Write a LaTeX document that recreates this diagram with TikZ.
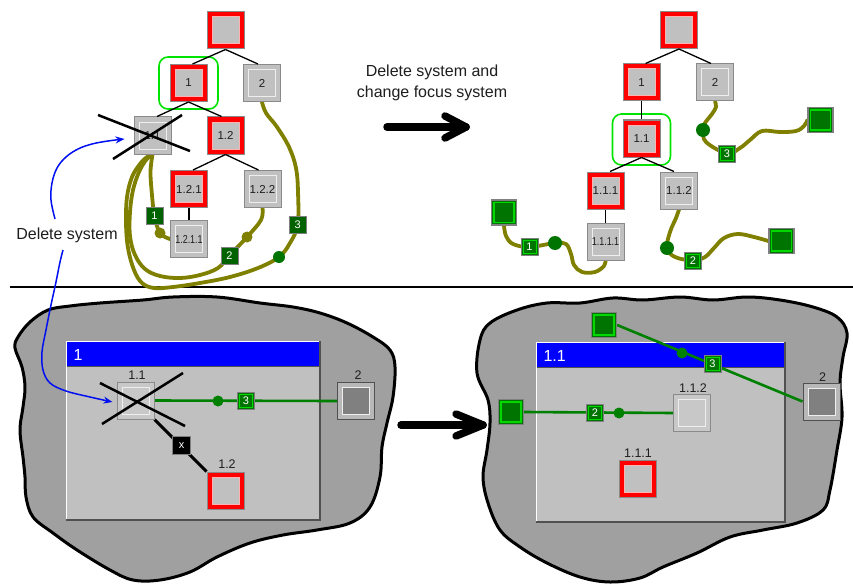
\documentclass[tikz,border=0pt]{standalone}
\usepackage{graphicx}
\usepackage{fontspec}
\setmainfont{Liberation Sans}
\usetikzlibrary{arrows.meta,calc}
\pgfdeclarelayer{back}
\pgfdeclarelayer{wires}
\pgfsetlayers{back,wires,main}

\definecolor{boxgray}{HTML}{C0C0C0}
\definecolor{paleboxgray}{HTML}{C8C8C8}
\definecolor{darkbox}{HTML}{808080}
\definecolor{shadeframe}{HTML}{B8B8B8}
\definecolor{edgegray}{HTML}{8A8A8A}
\definecolor{innerline}{HTML}{EEEEEE}
\definecolor{wire}{HTML}{808000}
\definecolor{portgreen}{HTML}{007400}
\definecolor{portlight}{HTML}{00D800}
\definecolor{linkgreen}{HTML}{008000}
\definecolor{focusgreen}{HTML}{00E400}
\definecolor{blobgray}{HTML}{A0A0A0}
\definecolor{titleblue}{HTML}{0000FF}
\definecolor{inkblue}{HTML}{0010F0}
\definecolor{textgray}{HTML}{1E1E1E}
\definecolor{framedark}{HTML}{505050}

\newcommand{\boxtext}{\fontsize{11.5}{13}\selectfont}
\newcommand{\tagtext}{\fontsize{11}{12}\selectfont}
\newcommand{\captext}{\fontsize{16}{21}\selectfont}
\newcommand{\nametext}{\fontsize{12.5}{14}\selectfont}
% long system numbers are squeezed to fit inside their box
\newcommand{\squeezed}[1]{\scalebox{0.78}[1]{#1}}

\begin{document}
\begin{tikzpicture}[x=1pt,y=-1pt,
  sysbox/.style={inner sep=0pt, minimum size=37pt, font=\boxtext, text=textgray,
    fill=boxgray, draw=edgegray, line width=1pt,
    path picture={\draw[innerline, line width=1pt]
      ([shift={(5pt,5pt)}]path picture bounding box.south west) rectangle
      ([shift={(-5pt,-5pt)}]path picture bounding box.north east);}},
  palebox/.style={sysbox, fill=paleboxgray},
  redbox/.style={inner sep=0pt, minimum size=37pt, font=\boxtext, text=textgray,
    fill=red, draw=edgegray, line width=1pt,
    path picture={\filldraw[fill=boxgray, draw=white!70!red, line width=1pt]
      ([shift={(5pt,5pt)}]path picture bounding box.south west) rectangle
      ([shift={(-5pt,-5pt)}]path picture bounding box.north east);}},
  shadebox/.style={inner sep=0pt, minimum size=37pt,
    fill=shadeframe, draw=framedark, line width=1pt,
    path picture={\filldraw[fill=darkbox, draw=innerline, line width=1pt]
      ([shift={(5pt,5pt)}]path picture bounding box.south west) rectangle
      ([shift={(-5pt,-5pt)}]path picture bounding box.north east);}},
  tagbox/.style={inner sep=0pt, minimum size=17pt, font=\tagtext, text=white,
    fill=portgreen, draw=gray, line width=0.8pt,
    path picture={\draw[portlight, line width=1pt]
      ([shift={(2pt,2pt)}]path picture bounding box.south west) rectangle
      ([shift={(-2pt,-2pt)}]path picture bounding box.north east);}},
  dimtag/.style={inner sep=0pt, minimum size=17pt, font=\tagtext, text=white,
    fill=portgreen!85!black, draw=gray, line width=0.8pt},
  crossbox/.style={inner sep=0pt, minimum size=18pt, font=\tagtext, text=white,
    fill=black, draw=gray, line width=0.8pt},
  extport/.style={inner sep=0pt, minimum size=25pt, fill=portgreen, draw=gray, line width=1.2pt,
    path picture={\draw[portlight, line width=1.3pt]
      ([shift={(2.5pt,2.5pt)}]path picture bounding box.south west) rectangle
      ([shift={(-2.5pt,-2.5pt)}]path picture bounding box.north east);}},
  knot/.style={circle, inner sep=0pt, minimum size=14pt, fill=portgreen},
  oliveknot/.style={circle, inner sep=0pt, minimum size=11pt, fill=wire},
  smallknot/.style={circle, inner sep=0pt, minimum size=11pt, fill=linkgreen},
  treeedge/.style={line width=1.3pt, black},
  wirecurve/.style={wire, line width=3.8pt, line cap=round, line join=round},
  link/.style={linkgreen, line width=2.6pt},
  focus/.style={focusgreen, line width=1.6pt, rounded corners=9pt},
  strike/.style={line width=2.5pt, black},
  bigarrow/.style={line width=7.5pt, line cap=round, line join=round, black},
  pointer/.style={inkblue, line width=1.5pt, -{Stealth[length=9pt,width=7pt]}},
  nametag/.style={font=\nametext, text=textgray, inner sep=0pt},
  blob/.style={fill=blobgray, draw=black, line width=3pt, line join=round},
]
\useasboundingbox (0,0) rectangle (853,583);

% ---------- background: page, divider, clouds and windows ----------
\begin{pgfonlayer}{back}
  \fill[white] (0,0) rectangle (853,583);
  \draw[black, line width=2pt] (10,287) -- (853,287);

  \draw[blob] plot[smooth cycle, tension=0.6] coordinates {
    (48,310) (70,306) (100,303) (143,300) (173,297) (217,297) (260,303) (293,307)
    (320,313) (347,323) (373,337) (390,350) (395,367) (393,397) (387,423) (382,447)
    (380,477) (370,507) (350,523) (317,530) (283,535) (250,543) (217,557) (190,572)
    (160,580) (133,580) (110,570) (77,550) (53,533) (33,517) (26,497) (25,477)
    (23,457) (20,430) (23,407) (25,387) (22,367) (15,348) (18,337) (30,322)};

  \draw[blob] plot[smooth cycle, tension=0.6] coordinates {
    (480,340) (490,323) (517,310) (547,303) (580,303) (613,298) (643,300) (680,297)
    (713,300) (747,297) (780,300) (813,307) (837,317) (847,333) (843,357) (840,383)
    (842,417) (837,450) (830,490) (823,510) (797,523) (763,530) (730,537) (697,553)
    (663,567) (640,578) (610,582) (580,577) (547,563) (520,547) (500,530) (488,503)
    (483,477) (487,450) (490,423) (488,400) (477,373)};

  % window of system 1
  \fill[boxgray] (66,341) rectangle (320,520);
  \fill[titleblue] (67,342) rectangle (319,366);
  \draw[framedark, line width=0.8pt] (67,366.5) -- (319,366.5);
  \draw[white, line width=1.2pt] (66.5,520) -- (66.5,341.5) -- (320,341.5);
  \draw[framedark, line width=1.5pt] (320,341) -- (320,520) -- (66,520);

  % window of system 1.1
  \fill[boxgray] (536,342) rectangle (785,522);
  \fill[titleblue] (537,343) rectangle (784,367);
  \draw[framedark, line width=0.8pt] (537,367.5) -- (784,367.5);
  \draw[white, line width=1.2pt] (536.5,522) -- (536.5,342.5) -- (785,342.5);
  \draw[framedark, line width=1.5pt] (785,342) -- (785,522) -- (536,522);
\end{pgfonlayer}

\node[font=\captext, text=white, anchor=west] (w1title) at (70,355) {1};
\node[font=\captext, text=white, anchor=west] (w2title) at (540,356) {1.1};

% ---------- system tree before the deletion ----------
\node[redbox] (root1) at (225.5,30.5) {};
\node[redbox] (a1) at (188.5,83) {1};
\node[sysbox] (a2) at (262,83) {2};
\node[sysbox] (a11) at (152.5,135.5) {1.1};
\node[redbox] (a12) at (225.5,135.5) {1.2};
\node[redbox] (a121) at (189,189) {1.2.1};
\node[sysbox] (a122) at (262.5,189) {1.2.2};
\node[sysbox] (a1211) at (189,239) {\squeezed{1.2.1.1}};

\draw[focus] ($(a1)+(-29.5,-26)$) rectangle ($(a1)+(29.5,26)$);

\draw[treeedge] (root1.south) -- ([xshift=4pt]a1.north);
\draw[treeedge] (root1.south) -- ([xshift=-4pt]a2.north);
\draw[treeedge] (a1.south) -- ([xshift=4.5pt]a11.north);
\draw[treeedge] (a1.south) -- ([xshift=-4pt]a12.north);
\draw[treeedge] (a12.south) -- ([xshift=4pt]a121.north);
\draw[treeedge] (a12.south) -- ([xshift=-4pt]a122.north);
\draw[treeedge] (a121.south) -- (a1211.north);

\node[oliveknot] (ka) at (160,233) {};
\node[oliveknot] (kb) at (247,237) {};
\node[knot, minimum size=12pt] (kc) at (279,257) {};
\node[dimtag] (ta) at (154.5,216) {1};
\node[dimtag] (tb) at (229.5,255.5) {2};
\node[dimtag] (tc) at (297.7,224.5) {3};

\begin{pgfonlayer}{wires}
  \draw[wirecurve] plot[smooth, tension=0.6] coordinates {
    (a1211.west) (ka) (ta) (152,195) (150.5,172) (a11.south)};
  \draw[wirecurve] plot[smooth, tension=0.6] coordinates {
    (a122.south) (261,220) (kb) (tb) (218,268) (200,275) (180,278) (160,276)
    (145,269) (135,255) (130,236) (130,212) (133,190) (139,172) (146,160) (a11.south)};
  \draw[wirecurve] plot[smooth, tension=0.6] coordinates {
    (a2.south) (266,113) (277,127) (289,147) (296,168) (298,192) (tc) (290,243) (kc)
    (258,268) (230,277) (200,283) (173,287) (154,288) (142,283) (134,270) (128,248)
    (126,223) (127,197) (132,177) (140,164) (147,157) (a11.south)};
\end{pgfonlayer}

% the deleted system is struck out
\coordinate (sA1) at (98,115);  \coordinate (sA2) at (190,151);
\coordinate (sB1) at (113,159); \coordinate (sB2) at (182,115);
\draw[strike] (sA1) -- (sA2);
\draw[strike] (sB1) -- (sB2);

% ---------- system tree after the deletion ----------
\node[redbox] (root2) at (679,30) {};
\node[redbox] (b1) at (641.5,82.5) {1};
\node[sysbox] (b2) at (715,82.5) {2};
\node[redbox] (b11) at (641.5,138.5) {1.1};
\node[redbox] (b111) at (605.5,190.5) {1.1.1};
\node[sysbox] (b112) at (679,190.5) {1.1.2};
\node[sysbox] (b1111) at (605.5,241.5) {\squeezed{1.1.1.1}};

\draw[focus] ($(b11)+(-29,-24.5)$) rectangle ($(b11)+(29,26.5)$);

\draw[treeedge] (root2.south) -- ([xshift=4pt]b1.north);
\draw[treeedge] (root2.south) -- ([xshift=-4pt]b2.north);
\draw[treeedge] (b1.south) -- (b11.north);
\draw[treeedge] (b11.south) -- ([xshift=4.5pt]b111.north);
\draw[treeedge] (b11.south) -- ([xshift=-5pt]b112.north);
\draw[treeedge] (b111.south) -- (b1111.north);

\node[extport] (p1) at (504,212.5) {};
\node[extport] (p2) at (781.5,241) {};
\node[extport] (p3) at (820.5,120) {};
\node[knot] (j1) at (555,243) {};
\node[knot] (j2) at (667,248) {};
\node[knot] (j3) at (703,130) {};
\node[tagbox] (t1) at (529.5,247) {1};
\node[tagbox] (t2) at (693,260.5) {2};
\node[tagbox] (t3) at (727,153.5) {3};

\begin{pgfonlayer}{wires}
  \draw[wirecurve] plot[smooth, tension=0.6] coordinates {
    (p1.south) (506,236) (513,244) (t1) (j1) (566,244) (571,254) (574,265) (582,272)
    (595,272) (604,266) (b1111.south)};
  \draw[wirecurve] plot[smooth, tension=0.6] coordinates {
    (b112.south) (676,218) (670,232) (j2) (675,257) (t2) (705,257) (714,248) (724,238)
    (738,234) (754,237) (p2.west)};
  \draw[wirecurve] plot[smooth, tension=0.6] coordinates {
    (b2.south) (716,107) (712,114) (705,123) (j3) (706,142) (t3) (740,148) (750,140)
    (762,131) (780,132) (796,131) (804,126) (p3.west)};
\end{pgfonlayer}

% ---------- captions and change arrows ----------
\node[font=\captext, text=textgray, align=center] (caption) at (432,83)
  {Delete system and\\change focus system};
\coordinate (arrAs) at (387,127);
\coordinate (arrAe) at (466,127);
\draw[bigarrow] (arrAs) -- (arrAe);
\draw[bigarrow] ($(arrAe)+(-21,-11)$) -- (arrAe) -- ($(arrAe)+(-21,11)$);

\coordinate (arrBs) at (401,425);
\coordinate (arrBe) at (483,425);
\draw[bigarrow] (arrBs) -- (arrBe);
\draw[bigarrow] ($(arrBe)+(-27,-11)$) -- (arrBe) -- ($(arrBe)+(-27,11)$);

% ---------- window of system 1 ----------
\node[palebox] (c11) at (135.5,400.5) {};
\node[shadebox] (c2) at (356,401) {};
\node[redbox] (c12) at (225.5,490.5) {};
\node[nametag] (c11name) at (137,375.5) {1.1};
\node[nametag] (c2name) at (358,375.5) {2};
\node[nametag] (c12name) at (227,464) {1.2};

\node[smallknot] (cj) at (218,401) {};
\node[tagbox] (ct) at (246,401) {3};
\node[crossbox] (cx) at (181.5,445.5) {x};
\begin{pgfonlayer}{wires}
  \draw[link] (c11.east) -- (c2.west);
  \draw[black, line width=3pt] (c11.south east) -- (c12.north west);
\end{pgfonlayer}

\coordinate (sC1) at (100,383); \coordinate (sC2) at (185,426);
\coordinate (sD1) at (102,424); \coordinate (sD2) at (183,373);
\draw[strike] (sC1) -- (sC2);
\draw[strike] (sD1) -- (sD2);

% ---------- window of system 1.1 ----------
\node[shadebox] (d2) at (821.5,401.5) {};
\node[palebox] (d112) at (692,413) {};
\node[redbox] (d111) at (638,479) {};
\node[nametag] (d2name) at (822.7,377) {2};
\node[nametag] (d112name) at (693,388) {1.1.2};
\node[nametag] (d111name) at (638,453.5) {1.1.1};

\node[extport] (pA) at (604,325) {};
\node[extport] (pB) at (511,412) {};
\node[smallknot] (dj1) at (682,353) {};
\node[tagbox] (dt3) at (712.5,364) {3};
\node[smallknot] (dj2) at (619,413) {};
\node[tagbox] (dt2) at (595,412.5) {2};
\begin{pgfonlayer}{wires}
  \draw[link] (pA.east) -- (d2.west);
  \draw[link] (pB.east) -- (d112.west);
\end{pgfonlayer}

% ---------- "Delete system" pointers ----------
\node[font=\captext, text=textgray] (dl) at (67,235) {Delete system};
\coordinate (upEnd) at ($(a11.west)+(-9,3.5)$);
\coordinate (downEnd) at ($(c11.west)+(-4,1.5)$);
\draw[pointer] plot[smooth, tension=0.6] coordinates {
  ([xshift=-12pt,yshift=5pt]dl.north) (51,200) (52,183) (57,168) (66,157) (78,149)
  (92,144) (108,141) (upEnd)};
\draw[pointer] plot[smooth, tension=0.6] coordinates {
  ([xshift=-4pt,yshift=-4pt]dl.south) (60,262) (56,282) (51,305) (46,330) (42,352)
  (43,370) (50,383) (66,391) (90,397) (downEnd)};
\end{tikzpicture}
\end{document}
